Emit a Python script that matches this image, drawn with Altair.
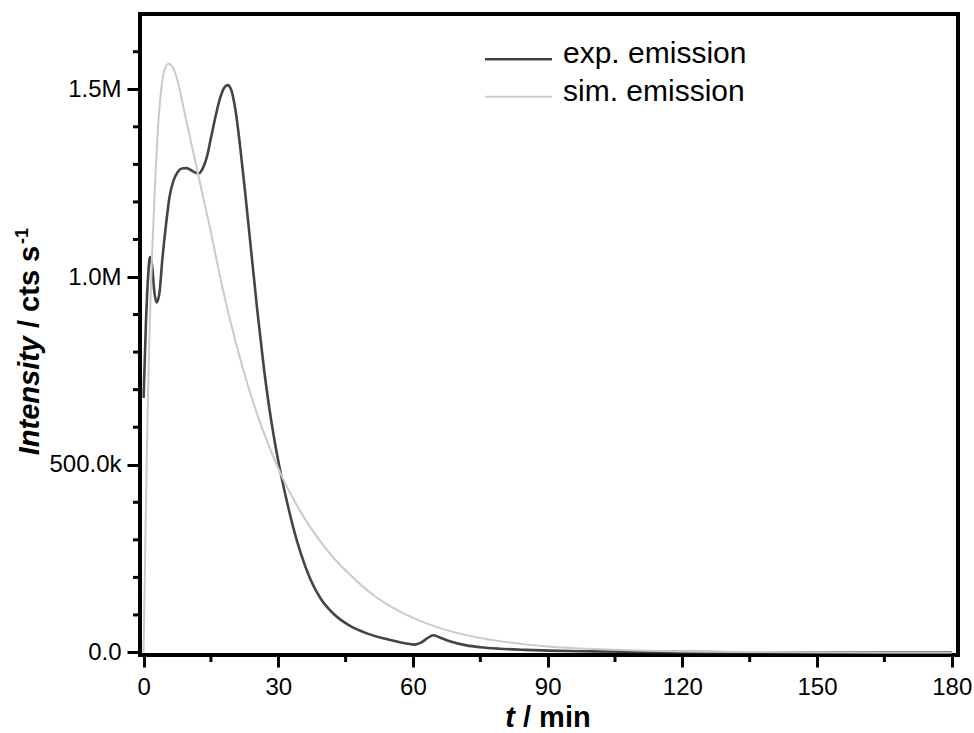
import altair as alt
import pandas as pd

# ---- data ----
exp_t = [0, 0.5, 1.0, 1.4, 1.9, 2.4, 2.9, 3.5, 4.2, 5.0, 5.8, 6.7, 7.6, 8.5, 9.5,
         10.5, 11.5, 12.3, 13.2, 14.1, 15.0, 16.0, 17.0, 18.0, 18.7, 19.5, 20.4,
         21.5, 22.7, 24.0, 25.3, 26.7, 28.0, 29.0, 30.0, 31.0, 32.0, 33.4, 35.0,
         37.1, 39.5, 42.3, 46.0, 49.7, 53.4, 57.1, 59.7, 60.3, 61.9, 63.2, 64.5,
         66.0, 68.2, 71.9, 75, 79.3, 85, 90.4, 100, 112.7, 130, 150, 165, 180]
exp_v = [678000, 870000, 1000000, 1053000, 1030000, 960000, 932000, 955000,
         1050000, 1140000, 1215000, 1258000, 1280000, 1289000, 1290000, 1285000,
         1278000, 1276000, 1290000, 1320000, 1370000, 1426000, 1475000, 1505000,
         1511000, 1499000, 1449500, 1348000, 1216000, 1065000, 914000, 767000,
         651000, 576000, 510000, 451500, 398000, 330000, 264500, 196300, 142300,
         103100, 70700, 50900, 37600, 27400, 22000, 21000, 27000, 38000, 46000,
         40000, 30000, 19000, 14000, 10000, 7000, 5000, 3000, 1500, 800, 400,
         300, 200]

sim_t = [0, 0.4, 0.8, 1.2, 1.6, 1.9, 2.6, 3.4, 4.2, 5.0, 5.6, 6.3, 7.0, 7.8, 9.0,
         10.1, 11.2, 12.3, 13.4, 14.5, 17.5, 20.5, 23.5, 26.5, 29.5, 30.8, 34, 37,
         40, 43, 46, 50, 54, 58, 60.8, 65, 70, 75, 80, 85, 90, 100, 110, 120, 135,
         150, 165, 180]
sim_v = [0, 300000, 580000, 800000, 960000, 1065000, 1260000, 1430000, 1525000,
         1562000, 1568000, 1562000, 1545000, 1512000, 1445000, 1385000, 1325000,
         1265000, 1205000, 1147000, 975000, 827000, 701000, 594000, 504000, 469000,
         395000, 336000, 286000, 243000, 207000, 164000, 130000, 103400, 88000,
         69000, 51600, 38600, 28900, 21600, 16200, 9100, 5100, 2800, 1200, 500,
         200, 100]

series_names = ["exp. emission", "sim. emission"]
series_colors = ["#444444", "#cacaca"]
series_widths = [2.6, 2.0]

x_major = [0, 30, 60, 90, 120, 150, 180]
x_minor = [15, 45, 75, 105, 135, 165]
y_major = [0, 500000, 1000000, 1500000]
y_minor = [100000, 200000, 300000, 400000, 600000, 700000, 800000, 900000,
           1100000, 1200000, 1300000, 1400000, 1600000]

df = pd.concat([
    pd.DataFrame({"t": exp_t, "v": exp_v, "series": series_names[0]}),
    pd.DataFrame({"t": sim_t, "v": sim_v, "series": series_names[1]}),
], ignore_index=True)

FONT = "Liberation Sans"

x_scale = alt.Scale(domain=[-0.8, 181.4], nice=False, zero=False)
y_scale = alt.Scale(domain=[-6700, 1700500], nice=False, zero=False)

x_axis = alt.Axis(
    values=x_major, title=None, domain=False, grid=False,
    tickSize=12, tickWidth=3, tickColor="black", labelColor="black",
    labelFont=FONT, labelFontSize=24, labelPadding=8,
)
y_axis = alt.Axis(
    values=y_major, title=None, domain=False, grid=False,
    labelExpr=("datum.value >= 1000000 ? format(datum.value/1000000, '.1f') + 'M' : "
               "(datum.value > 0 ? format(datum.value/1000, '.1f') + 'k' : '0.0')"),
    tickSize=13, tickWidth=3, tickColor="black", labelColor="black",
    labelFont=FONT, labelFontSize=24, labelPadding=6,
)

layers = []
for name, color, w in zip(series_names, series_colors, series_widths):
    layers.append(
        alt.Chart(df[df.series == name]).mark_line(
            color=color, strokeWidth=w, interpolate="monotone", clip=True
        ).encode(
            x=alt.X("t:Q", scale=x_scale, axis=x_axis),
            y=alt.Y("v:Q", scale=y_scale, axis=y_axis),
            order="t:Q",
        )
    )

# minor ticks
layers.append(alt.Chart(pd.DataFrame({"m": x_minor})).mark_rule(
    color="black", strokeWidth=3).encode(
    x=alt.X("m:Q", scale=x_scale), y=alt.value(641), y2=alt.value(648)))
layers.append(alt.Chart(pd.DataFrame({"m": y_minor})).mark_rule(
    color="black", strokeWidth=3).encode(
    y=alt.Y("m:Q", scale=y_scale), x=alt.value(-7), x2=alt.value(0)))

one = pd.DataFrame({"a": [0]})

# legend (manual, top-right inside plot)
leg_y_line = [45.3, 82.7]
leg_y_text = [49.3, 86.7]
for name, color, w, yl, yt in zip(series_names, series_colors, series_widths,
                                  leg_y_line, leg_y_text):
    layers.append(alt.Chart(one).mark_rule(color=color, strokeWidth=w).encode(
        x=alt.value(345), x2=alt.value(412), y=alt.value(yl)))
    layers.append(alt.Chart(one).mark_text(
        text=name, align="left", baseline="alphabetic", font=FONT,
        fontSize=30, color="black").encode(x=alt.value(423), y=alt.value(yt)))

# axis titles with mixed italic / bold
TS = 29
layers.append(alt.Chart(one).mark_text(
    text="t", align="right", baseline="alphabetic", font=FONT, fontSize=TS,
    fontWeight="bold", fontStyle="italic", color="black"
).encode(x=alt.value(375), y=alt.value(713)))
layers.append(alt.Chart(one).mark_text(
    text="/ min", align="left", baseline="alphabetic", font=FONT, fontSize=TS,
    fontWeight="bold", color="black"
).encode(x=alt.value(383), y=alt.value(713)))
layers.append(alt.Chart(one).mark_text(
    text="Intensity", align="right", baseline="alphabetic", angle=270, font=FONT,
    fontSize=TS, fontWeight="bold", fontStyle="italic", color="black"
).encode(x=alt.value(-101), y=alt.value(322)))
layers.append(alt.Chart(one).mark_text(
    text="/ cts s", align="left", baseline="alphabetic", angle=270,
    font=FONT, fontSize=TS, fontWeight="bold", color="black"
).encode(x=alt.value(-101), y=alt.value(314)))
layers.append(alt.Chart(one).mark_text(
    text="-1", align="left", baseline="alphabetic", angle=270,
    font=FONT, fontSize=18, fontWeight="bold", color="black"
).encode(x=alt.value(-112), y=alt.value(230)))

chart = alt.layer(*layers).properties(
    width=818, height=641,
    padding={"left": 140, "top": 14, "right": 16, "bottom": 78},
    autosize=alt.AutoSizeParams(type="none"),
    background="white",
).configure_view(stroke="black", strokeWidth=4)

chart.save("out.html", embed_options={"renderer": "svg", "actions": False})
